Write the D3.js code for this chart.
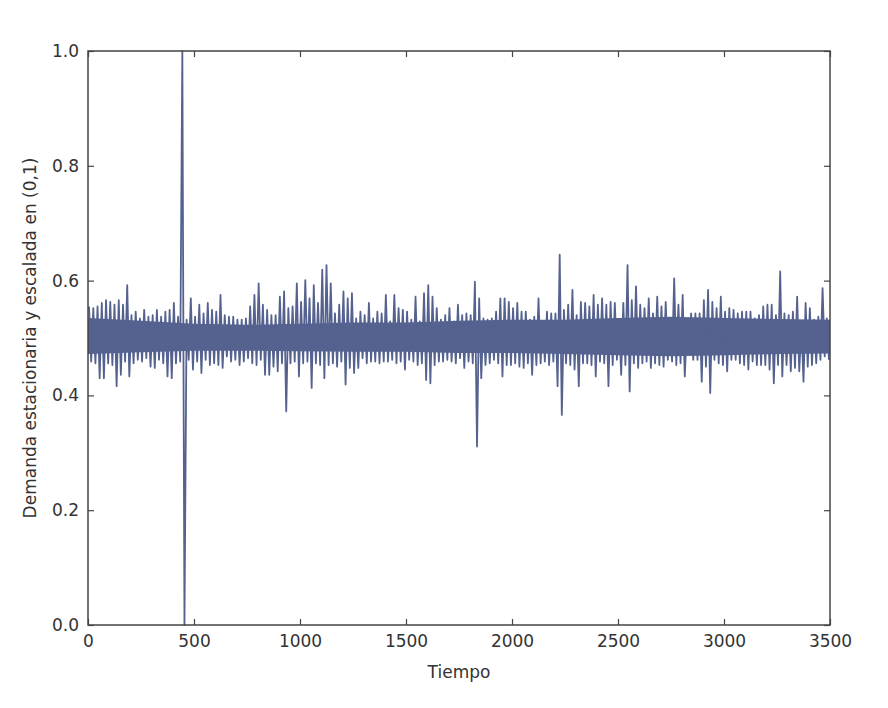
<!DOCTYPE html>
<html>
<head>
<meta charset="utf-8">
<script src="https://cdn.jsdelivr.net/npm/d3@7"></script>
<style>
  body { margin: 0; background: #fff; }
  text { font-family: "DejaVu Sans", sans-serif; fill: #333; }
</style>
</head>
<body>
<div id="chart"></div>
<script>
// envelope, one high and one low per 20-step bucket of Tiempo
const bucketSize = 20;
const highs = [
  0.555, 0.552, 0.555, 0.561, 0.566, 0.563, 0.558, 0.566, 0.558, 0.592,
  0.540, 0.546, 0.534, 0.549, 0.537, 0.540, 0.549, 0.537, 0.546, 0.549,
  0.561, 0.537, 1.000, 0.532, 0.569, 0.537, 0.558, 0.543, 0.561, 0.549,
  0.546, 0.575, 0.540, 0.537, 0.537, 0.532, 0.532, 0.534, 0.555, 0.575,
  0.595, 0.558, 0.549, 0.540, 0.540, 0.572, 0.581, 0.552, 0.555, 0.595,
  0.563, 0.601, 0.569, 0.592, 0.561, 0.619, 0.627, 0.595, 0.543, 0.558,
  0.581, 0.569, 0.578, 0.534, 0.546, 0.540, 0.561, 0.534, 0.546, 0.543,
  0.575, 0.529, 0.575, 0.552, 0.549, 0.546, 0.532, 0.572, 0.529, 0.578,
  0.592, 0.572, 0.552, 0.532, 0.540, 0.552, 0.529, 0.558, 0.540, 0.543,
  0.540, 0.598, 0.569, 0.534, 0.532, 0.534, 0.546, 0.569, 0.569, 0.563,
  0.552, 0.561, 0.546, 0.546, 0.532, 0.537, 0.569, 0.529, 0.546, 0.543,
  0.543, 0.645, 0.549, 0.558, 0.584, 0.540, 0.563, 0.561, 0.555, 0.575,
  0.558, 0.569, 0.558, 0.563, 0.561, 0.532, 0.561, 0.627, 0.566, 0.590,
  0.558, 0.552, 0.569, 0.543, 0.572, 0.555, 0.563, 0.532, 0.604, 0.558,
  0.575, 0.523, 0.543, 0.543, 0.543, 0.566, 0.584, 0.563, 0.552, 0.572,
  0.546, 0.552, 0.549, 0.543, 0.546, 0.546, 0.546, 0.534, 0.540, 0.555,
  0.558, 0.558, 0.540, 0.616, 0.543, 0.540, 0.546, 0.572, 0.523, 0.561,
  0.552, 0.532, 0.537, 0.587, 0.534
];
const lows = [
  0.459, 0.456, 0.430, 0.430, 0.456, 0.453, 0.416, 0.436, 0.459, 0.433,
  0.456, 0.462, 0.459, 0.465, 0.450, 0.448, 0.462, 0.456, 0.433, 0.430,
  0.456, 0.459, 0.000, 0.462, 0.445, 0.459, 0.439, 0.462, 0.453, 0.456,
  0.453, 0.448, 0.468, 0.459, 0.462, 0.453, 0.459, 0.465, 0.456, 0.453,
  0.462, 0.436, 0.436, 0.450, 0.442, 0.456, 0.372, 0.456, 0.459, 0.433,
  0.456, 0.459, 0.413, 0.456, 0.453, 0.430, 0.453, 0.456, 0.450, 0.459,
  0.419, 0.448, 0.439, 0.448, 0.465, 0.456, 0.459, 0.459, 0.456, 0.459,
  0.459, 0.462, 0.456, 0.459, 0.445, 0.462, 0.459, 0.453, 0.456, 0.427,
  0.421, 0.453, 0.459, 0.459, 0.462, 0.459, 0.456, 0.465, 0.448, 0.459,
  0.456, 0.311, 0.430, 0.453, 0.456, 0.462, 0.456, 0.433, 0.453, 0.453,
  0.456, 0.450, 0.448, 0.456, 0.436, 0.453, 0.456, 0.459, 0.453, 0.459,
  0.416, 0.366, 0.456, 0.453, 0.445, 0.416, 0.456, 0.456, 0.453, 0.433,
  0.459, 0.456, 0.416, 0.453, 0.462, 0.436, 0.453, 0.407, 0.456, 0.448,
  0.456, 0.459, 0.448, 0.456, 0.453, 0.450, 0.462, 0.459, 0.453, 0.456,
  0.433, 0.479, 0.462, 0.462, 0.424, 0.450, 0.404, 0.462, 0.456, 0.453,
  0.442, 0.462, 0.462, 0.456, 0.453, 0.445, 0.459, 0.453, 0.453, 0.453,
  0.445, 0.421, 0.453, 0.433, 0.453, 0.442, 0.448, 0.442, 0.424, 0.450,
  0.453, 0.456, 0.462, 0.468, 0.462
];
// the dense dark core of the band, read every 250 steps
const coreStep = 250;
const coreTop = [0.535, 0.530, 0.525, 0.523, 0.525, 0.527, 0.527, 0.530,
                 0.532, 0.532, 0.535, 0.537, 0.535, 0.533, 0.532];
const coreBottom = [0.472, 0.475, 0.478, 0.478, 0.477, 0.476, 0.476, 0.474,
                    0.474, 0.472, 0.470, 0.468, 0.470, 0.472, 0.473];
const xTicks = [0, 500, 1000, 1500, 2000, 2500, 3000, 3500];
const yTicks = [0.0, 0.2, 0.4, 0.6, 0.8, 1.0];

// zig-zag high -> low inside each bucket
let points = [];
highs.forEach(function(h, i) {
  points.push([i * bucketSize + 5, h]);
  points.push([i * bucketSize + 15, lows[i]]);
});

let width = 888, height = 708;
let margin = {top: 51, right: 58, bottom: 83, left: 88};
const lineColor = "#55628f";

var svg = d3.select("#chart")
  .append("svg")
  .attr("width", width)
  .attr("height", height);

var x = d3.scaleLinear().domain([0, 3500]).range([margin.left, width - margin.right]);
var y = d3.scaleLinear().domain([0, 1]).range([height - margin.bottom, margin.top]);

// core band, so the middle reads as solid like the 3500-point original
svg.append("path")
  .datum(coreTop)
  .attr("fill", lineColor)
  .attr("d", d3.area()
    .x(function(d, i) { return x(i * coreStep); })
    .y0(function(d, i) { return y(coreBottom[i]); })
    .y1(function(d) { return y(d); }));

// the series
svg.append("path")
  .datum(points)
  .attr("fill", "none")
  .attr("stroke", lineColor)
  .attr("stroke-width", 1.8)
  .attr("stroke-linejoin", "round")
  .attr("d", d3.line()
    .x(function(d) { return x(d[0]); })
    .y(function(d) { return y(d[1]); }));

// axes, matplotlib classic: ticks pointing in on every side
var gBottom = svg.append("g")
  .attr("transform", "translate(0," + y(0) + ")")
  .call(d3.axisBottom(x).tickValues(xTicks).tickSizeInner(-6).tickSizeOuter(0).tickPadding(10)
    .tickFormat(d3.format("d")));
var gTop = svg.append("g")
  .attr("transform", "translate(0," + y(1) + ")")
  .call(d3.axisTop(x).tickValues(xTicks).tickSizeInner(-6).tickSizeOuter(0).tickFormat(""));
var gLeft = svg.append("g")
  .attr("transform", "translate(" + x(0) + ",0)")
  .call(d3.axisLeft(y).tickValues(yTicks).tickSizeInner(-6).tickSizeOuter(0).tickPadding(9)
    .tickFormat(d3.format(".1f")));
var gRight = svg.append("g")
  .attr("transform", "translate(" + x(3500) + ",0)")
  .call(d3.axisRight(y).tickValues(yTicks).tickSizeInner(-6).tickSizeOuter(0).tickFormat(""));

[gBottom, gTop, gLeft, gRight].forEach(function(g) {
  g.select(".domain").remove();
  g.selectAll(".tick line").attr("stroke", "#444").attr("stroke-width", 1.2);
  g.selectAll("text")
    .attr("font-size", 17)
    .attr("font-family", "DejaVu Sans, sans-serif")
    .attr("fill", "#333");
});

// frame
svg.append("rect")
  .attr("x", x(0))
  .attr("y", y(1))
  .attr("width", x(3500) - x(0))
  .attr("height", y(0) - y(1))
  .attr("fill", "none")
  .attr("stroke", "#444")
  .attr("stroke-width", 1.5);

svg.append("text")
  .attr("x", (x(0) + x(3500)) / 2)
  .attr("y", 678)
  .attr("text-anchor", "middle")
  .style("font-size", "17px")
  .text("Tiempo");

svg.append("text")
  .attr("transform", "translate(36," + (y(0) + y(1)) / 2 + ") rotate(-90)")
  .attr("text-anchor", "middle")
  .style("font-size", "17px")
  .text("Demanda estacionaria y escalada en (0,1)");
</script>
</body>
</html>
